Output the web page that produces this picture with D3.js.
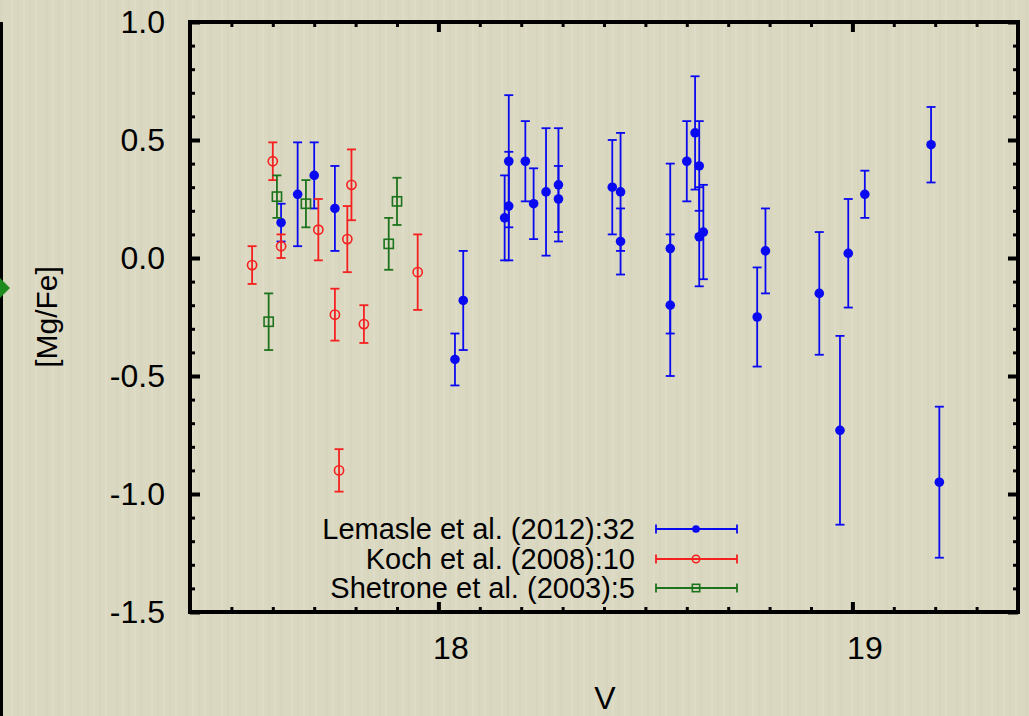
<!DOCTYPE html>
<html><head><meta charset="utf-8">
<script src="https://cdn.jsdelivr.net/npm/d3@7"></script>
<style>html,body{margin:0;padding:0;background:#dad8c1;} svg{display:block;}</style>
</head><body><svg id="chart" width="1029" height="716"></svg>
<script>
// ---- data ----
const lemasleV   = [17.62,17.66,17.70,17.75,18.04,18.06,18.16,18.17,18.17,18.21,18.23,18.26,18.29,18.29,18.42,18.44,18.44,18.56,18.56,18.60,18.62,18.63,18.63,18.64,18.77,18.79,18.92,18.97,18.99,19.03,19.19,19.21];
const lemasleMg  = [0.15,0.27,0.35,0.21,-0.43,-0.18,0.17,0.41,0.22,0.41,0.23,0.28,0.31,0.25,0.30,0.28,0.07,0.04,-0.20,0.41,0.53,0.39,0.09,0.11,-0.25,0.03,-0.15,-0.73,0.02,0.27,0.48,-0.95];
const lemasleErr = [0.08,0.22,0.14,0.18,0.11,0.21,0.18,0.28,0.23,0.17,0.15,0.27,0.24,0.14,0.20,0.25,0.14,0.36,0.30,0.17,0.24,0.19,0.21,0.20,0.21,0.18,0.26,0.40,0.23,0.10,0.16,0.32];

const kochV   = [17.60,17.62,17.55,17.71,17.78,17.79,17.95,17.75,17.82,17.76];
const kochMg  = [0.41,0.05,-0.03,0.12,0.08,0.31,-0.06,-0.24,-0.28,-0.90];
const kochErr = [0.08,0.05,0.08,0.13,0.14,0.15,0.16,0.11,0.08,0.09];

const shetroneV   = [17.61,17.68,17.88,17.90,17.59];
const shetroneMg  = [0.26,0.23,0.06,0.24,-0.27];
const shetroneErr = [0.09,0.10,0.11,0.10,0.12];

const xMajorTicks = [18,19];
const xMinorTicks = [17.5,17.6,17.7,17.8,17.9,18.1,18.2,18.3,18.4,18.5,18.6,18.7,18.8,18.9,19.1,19.2,19.3];
const yMajorTicks = [-1.5,-1.0,-0.5,0.0,0.5,1.0];
const yMinorTicks = [-1.4,-1.3,-1.2,-1.1,-0.9,-0.8,-0.7,-0.6,-0.4,-0.3,-0.2,-0.1,0.1,0.2,0.3,0.4,0.6,0.7,0.8,0.9];
const legendLabels = ["Lemasle et al. (2012):32","Koch et al. (2008):10","Shetrone et al. (2003):5"];
const xTitle = "V", yTitle = "[Mg/Fe]";

// ---- layout ----
const L=190, R=1018, T=22, B=612;
const FONT = "'Liberation Sans', Arial, Helvetica, sans-serif";
const BLUE="#0a0af0", RED="#f52020", GREEN="#1d731d";
const svg = d3.select("#chart");
svg.append("rect").attr("width",1029).attr("height",716).attr("fill","#dad8c1");

// subtle paper streaks
const streak = svg.append("g").attr("opacity",0.25);
for (let i=0;i<1029;i+=7){
  streak.append("rect").attr("x",i+((i*37)%5)).attr("y",0).attr("width",2).attr("height",716)
    .attr("fill", (i/7)%2 ? "#eceadb" : "#cfcdb4");
}

// left slide decoration
svg.append("rect").attr("x",0).attr("y",22).attr("width",3).attr("height",694).attr("fill","#000");
svg.append("path").attr("d","M0,278 L10,288 L0,298 L-10,288 Z").attr("fill","#1e8a1e");

const x = d3.scaleLinear().domain([17.4,19.4]).range([L,R]);
const y = d3.scaleLinear().domain([-1.5,1.0]).range([B,T]);

function styleAxis(g, w){
  g.select(".domain").remove();
  g.selectAll(".tick line").attr("stroke","#000").attr("stroke-width",w);
  g.selectAll("text").attr("font-family",FONT).attr("font-size",32).attr("fill","#000");
}
const yFmt = d => d3.format(".1f")(d).replace("\u2212","-");
// bottom
svg.append("g").attr("transform",`translate(0,${B})`)
  .call(d3.axisBottom(x).tickValues(xMajorTicks).tickSize(-10).tickPadding(24).tickFormat(d3.format("d")))
  .call(g=>styleAxis(g,4)).call(g=>g.selectAll("text").attr("dx",12));
svg.append("g").attr("transform",`translate(0,${B})`)
  .call(d3.axisBottom(x).tickValues(xMinorTicks).tickSize(-5).tickFormat(""))
  .call(g=>styleAxis(g,3));
// top
svg.append("g").attr("transform",`translate(0,${T})`)
  .call(d3.axisTop(x).tickValues(xMajorTicks).tickSize(-10).tickFormat(""))
  .call(g=>styleAxis(g,4));
svg.append("g").attr("transform",`translate(0,${T})`)
  .call(d3.axisTop(x).tickValues(xMinorTicks).tickSize(-5).tickFormat(""))
  .call(g=>styleAxis(g,3));
// left
svg.append("g").attr("transform",`translate(${L},0)`)
  .call(d3.axisLeft(y).tickValues(yMajorTicks).tickSize(-10).tickPadding(25).tickFormat(yFmt))
  .call(g=>styleAxis(g,4));
svg.append("g").attr("transform",`translate(${L},0)`)
  .call(d3.axisLeft(y).tickValues(yMinorTicks).tickSize(-5).tickFormat(""))
  .call(g=>styleAxis(g,3));
// right
svg.append("g").attr("transform",`translate(${R},0)`)
  .call(d3.axisRight(y).tickValues(yMajorTicks).tickSize(-10).tickFormat(""))
  .call(g=>styleAxis(g,4));
svg.append("g").attr("transform",`translate(${R},0)`)
  .call(d3.axisRight(y).tickValues(yMinorTicks).tickSize(-5).tickFormat(""))
  .call(g=>styleAxis(g,3));

// frame
svg.append("rect").attr("x",L).attr("y",T).attr("width",R-L).attr("height",B-T)
  .attr("fill","none").attr("stroke","#000").attr("stroke-width",4);

// titles
svg.append("text").attr("x",605).attr("y",709).attr("text-anchor","middle")
  .attr("font-family",FONT).attr("font-size",32).text(xTitle);
svg.append("text").attr("transform","translate(57,317) rotate(-90)").attr("text-anchor","middle")
  .attr("font-family",FONT).attr("font-size",30).text(yTitle);

// series
function drawSeries(vs, ms, es, color, marker){
  const data = vs.map((v,i)=>({v, m:ms[i], e:es[i]}));
  const g = svg.append("g");
  const cap = 4.5;
  const eb = g.selectAll("g.eb").data(data).enter().append("g")
    .attr("stroke",color).attr("stroke-width",1.8).attr("fill","none");
  eb.append("line").attr("x1",d=>x(d.v)).attr("x2",d=>x(d.v)).attr("y1",d=>y(d.m-d.e)).attr("y2",d=>y(d.m+d.e));
  eb.append("line").attr("x1",d=>x(d.v)-cap).attr("x2",d=>x(d.v)+cap).attr("y1",d=>y(d.m+d.e)).attr("y2",d=>y(d.m+d.e));
  eb.append("line").attr("x1",d=>x(d.v)-cap).attr("x2",d=>x(d.v)+cap).attr("y1",d=>y(d.m-d.e)).attr("y2",d=>y(d.m-d.e));
  data.forEach(d=>marker(g, x(d.v), y(d.m), 1));
}
const dot = (g,cx,cy,s)=>g.append("circle").attr("cx",cx).attr("cy",cy).attr("r",4.8*s).attr("fill",BLUE);
const ring = (g,cx,cy,s)=>g.append("circle").attr("cx",cx).attr("cy",cy).attr("r",4.6*s).attr("fill","none").attr("stroke",RED).attr("stroke-width",1.6);
const square = (g,cx,cy,s)=>g.append("rect").attr("x",cx-4.6*s).attr("y",cy-4.6*s).attr("width",9.2*s).attr("height",9.2*s).attr("fill","none").attr("stroke",GREEN).attr("stroke-width",1.6);

drawSeries(lemasleV, lemasleMg, lemasleErr, BLUE, dot);
drawSeries(kochV, kochMg, kochErr, RED, ring);
drawSeries(shetroneV, shetroneMg, shetroneErr, GREEN, square);

// legend
const legColors = [BLUE, RED, GREEN];
const legMarkers = [dot, ring, square];
const legY = [529, 559, 588];
legendLabels.forEach((lab,i)=>{
  const g = svg.append("g");
  g.append("text").attr("x",635).attr("y",legY[i]).attr("dy","0.36em").attr("text-anchor","end")
    .attr("font-family",FONT).attr("font-size",29).attr("fill","#000").text(lab);
  g.append("line").attr("x1",656).attr("x2",737).attr("y1",legY[i]).attr("y2",legY[i]).attr("stroke",legColors[i]).attr("stroke-width",1.8);
  [656,737].forEach(cx=>g.append("line").attr("x1",cx).attr("x2",cx).attr("y1",legY[i]-4.5).attr("y2",legY[i]+4.5).attr("stroke",legColors[i]).attr("stroke-width",1.8));
  legMarkers[i](g, 696, legY[i], 0.8);
});
</script></body></html>
